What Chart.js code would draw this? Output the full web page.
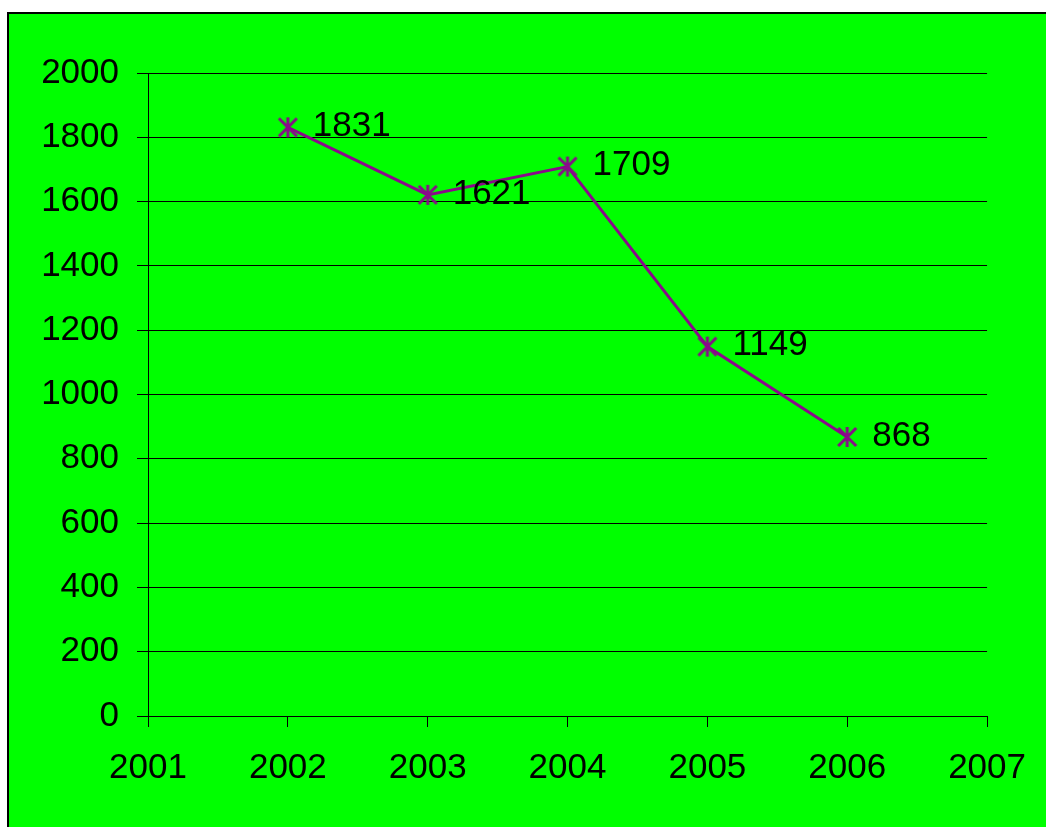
<!DOCTYPE html>
<html>
<head>
<meta charset="utf-8">
<style>
  html, body { margin: 0; padding: 0; background: #fff; }
  #wrap { width: 1046px; height: 827px; position: relative; }
</style>
<script src="https://cdn.jsdelivr.net/npm/chart.js@4.4.1/dist/chart.umd.min.js"></script>
</head>
<body>
<div id="wrap"><canvas id="c" width="1046" height="827"></canvas></div>
<script>
// Yearly totals
const years = [2002, 2003, 2004, 2005, 2006];
const totals = [1831, 1621, 1709, 1149, 868];
const xTickRange = [2001, 2007];
const yTickRange = [0, 2000];
const yStep = 200;

const PURPLE = '#8a0a8a';
const FONT = '"Liberation Sans", Arial, sans-serif';

// Asterisk marker: an X crossed by a vertical stroke
function makeStar(r, color, lw) {
  const s = Math.ceil(r * 2 + lw * 2);
  const cv = document.createElement('canvas');
  cv.width = s; cv.height = s;
  const g = cv.getContext('2d');
  const c = s / 2;
  g.strokeStyle = color;
  g.lineWidth = lw;
  g.lineCap = 'butt';
  g.beginPath();
  const d = r * 0.9;
  g.moveTo(c - d, c - d); g.lineTo(c + d, c + d);
  g.moveTo(c + d, c - d); g.lineTo(c - d, c + d);
  g.moveTo(c, c - r); g.lineTo(c, c + r);
  g.stroke();
  return cv;
}
const starMarker = makeStar(10, PURPLE, 3);

// Green panel with black frame behind the chart
const panel = {
  id: 'panel',
  beforeDraw(chart) {
    const ctx = chart.ctx;
    ctx.save();
    ctx.fillStyle = '#ffffff';
    ctx.fillRect(0, 0, chart.width, chart.height);
    ctx.fillStyle = '#00ff00';
    ctx.fillRect(8, 13, chart.width, chart.height);
    ctx.strokeStyle = '#000';
    ctx.lineWidth = 2;
    ctx.strokeRect(8, 13, chart.width + 10, chart.height + 10);
    ctx.restore();
  }
};

// Value labels to the right of each point
const valueLabels = {
  id: 'valueLabels',
  afterDatasetsDraw(chart) {
    const ctx = chart.ctx;
    const meta = chart.getDatasetMeta(0);
    ctx.save();
    ctx.font = '35px ' + FONT;
    ctx.fillStyle = '#000';
    ctx.textAlign = 'left';
    ctx.textBaseline = 'middle';
    meta.data.forEach((pt, i) => {
      ctx.fillText(String(totals[i]), pt.x + 25, pt.y - 1);
    });
    ctx.restore();
  }
};

new Chart(document.getElementById('c'), {
  type: 'line',
  data: {
    datasets: [{
      data: years.map((y, i) => ({ x: y, y: totals[i] })),
      borderColor: PURPLE,
      borderWidth: 3,
      pointStyle: starMarker,
      pointRadius: 10,
      pointHoverRadius: 10,
      tension: 0,
      fill: false
    }]
  },
  options: {
    responsive: false,
    animation: false,
    events: [],
    layout: { padding: { left: 0, top: 73, right: 58, bottom: 0 } },
    plugins: {
      legend: { display: false },
      tooltip: { enabled: false },
      title: { display: false }
    },
    scales: {
      x: {
        type: 'linear',
        min: xTickRange[0],
        max: xTickRange[1],
        ticks: {
          stepSize: 1,
          color: '#000',
          font: { family: FONT, size: 35 },
          padding: 20,
          maxRotation: 0,
          autoSkip: false,
          callback: v => String(v)
        },
        grid: { display: true, drawOnChartArea: false, drawTicks: true, tickLength: 11, color: '#000', lineWidth: 1 },
        border: { display: true, color: '#000', width: 1 },
        afterFit(axis) { axis.height = 111; }
      },
      y: {
        min: yTickRange[0],
        max: yTickRange[1],
        ticks: {
          stepSize: yStep,
          color: '#000',
          font: { family: FONT, size: 35 },
          padding: 18,
          callback: v => String(v)
        },
        grid: { display: true, drawOnChartArea: true, drawTicks: true, tickLength: 11, color: '#000', lineWidth: 1 },
        border: { display: true, color: '#000', width: 1 },
        afterFit(axis) { axis.width = 148; }
      }
    }
  },
  plugins: [panel, valueLabels]
});
</script>
</body>
</html>
